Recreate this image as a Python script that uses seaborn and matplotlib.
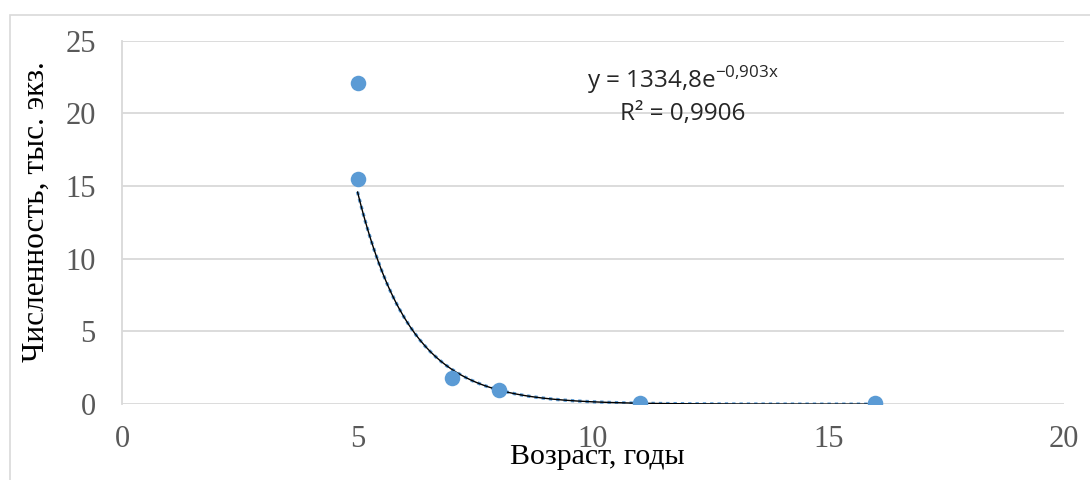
import numpy as np
import pandas as pd
import seaborn as sns
from matplotlib import pyplot as plt
from matplotlib.patches import Rectangle

# age (years) vs abundance (thousand specimens)
age = [5, 5, 7, 8, 11, 16]
count = [22.1, 15.5, 1.8, 1.0, 0.1, 0.05]

# exponential trendline as printed on the chart: y = a * exp(b * x)
trend_a = 1334.8
trend_b = -0.903
trend_label = "y = 1334,8e$^{\\mathregular{-0{,}903x}}$"
r2_label = "R² = 0,9906"

df = pd.DataFrame({"age": age, "count": count})
xs = np.linspace(min(age), max(age), 200)
trend = pd.DataFrame({"age": xs, "count": trend_a * np.exp(trend_b * xs)})

sns.set_style("white")
plt.rcParams["font.family"] = ["Liberation Serif", "DejaVu Serif"]

fig, ax = plt.subplots(figsize=(10.9, 4.8), dpi=100)
fig.subplots_adjust(left=0.112, right=0.976, top=0.915, bottom=0.158)

# outer chart frame (Excel style)
fig.patches.append(Rectangle((0.0092, -0.05), 1.1, 1.019, transform=fig.transFigure,
                             fill=False, edgecolor="#d9d9d9", linewidth=1.2, zorder=-1))

blue = "#5b9bd5"
sns.lineplot(data=trend, x="age", y="count", ax=ax, color=blue, linewidth=2.4,
             linestyle=(0, (1, 1.2)), zorder=2)
sns.lineplot(data=trend, x="age", y="count", ax=ax, color="black", linewidth=1.0, zorder=3)
sns.scatterplot(data=df, x="age", y="count", ax=ax, color=blue, s=125,
                edgecolor=blue, linewidth=0, zorder=4)

ax.set_xlim(0, 20)
ax.set_ylim(0, 25)
ax.set_xticks([0, 5, 10, 15, 20])
ax.set_yticks([0, 5, 10, 15, 20, 25])
ax.yaxis.grid(True, color="#d9d9d9", linewidth=1.3)
ax.xaxis.grid(False)
for side in ["top", "right", "bottom"]:
    ax.spines[side].set_visible(False)
ax.spines["left"].set_color("#d9d9d9")
ax.spines["left"].set_linewidth(1.3)
ax.tick_params(axis="both", length=0, labelsize=22, labelcolor="#595959")
ax.tick_params(axis="x", pad=15)
ax.tick_params(axis="y", pad=19)

ax.set_xlabel("Возраст, годы", fontsize=21.5, color="black")
ax.xaxis.set_label_coords(0.505, -0.11)
ax.set_ylabel("Численность, тыс. экз.", fontsize=22.5, color="black")
ax.yaxis.set_label_coords(-0.076, 0.53)

ax.text(11.9, 22.3, trend_label, ha="center", va="center", fontsize=17.5,
        family=["Open Sans", "DejaVu Sans"])
ax.text(11.9, 19.95, r2_label, ha="center", va="center", fontsize=17.5,
        family=["Open Sans", "DejaVu Sans"])

plt.savefig("out.png", dpi=100)
